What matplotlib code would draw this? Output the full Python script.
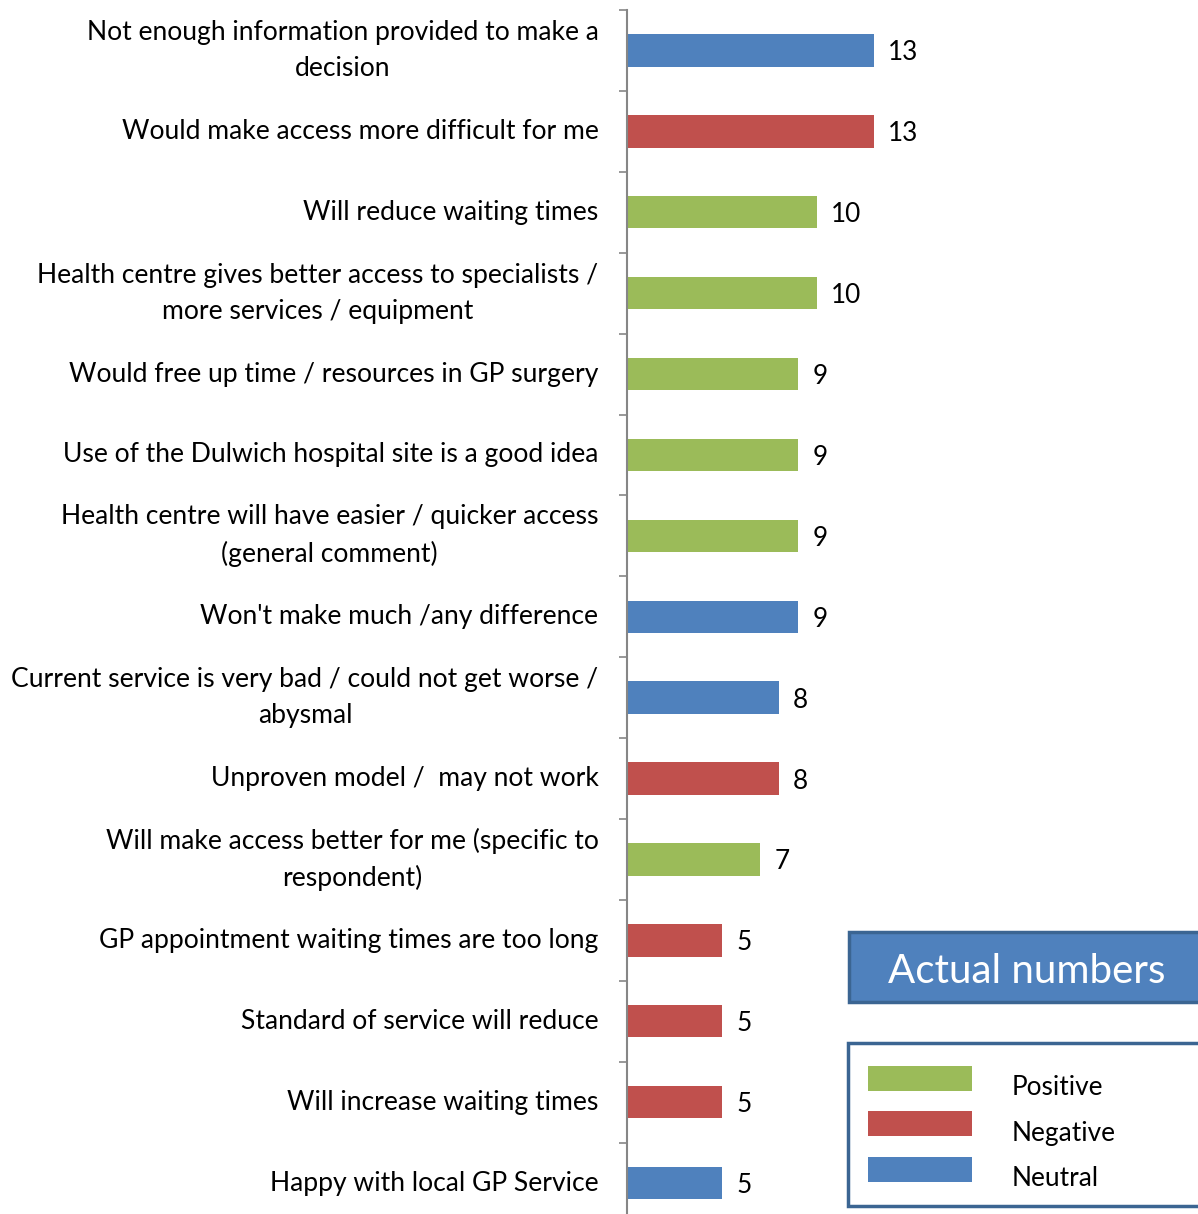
import numpy as np
import matplotlib.pyplot as plt
from matplotlib.patches import Rectangle

plt.rcParams['font.family'] = ['Lato', 'DejaVu Sans']

labels = [
    "Not enough information provided to make a\ndecision",
    "Would make access more difficult for me",
    "Will reduce waiting times",
    "Health centre gives better access to specialists /\nmore services / equipment",
    "Would free up time / resources in GP surgery",
    "Use of the Dulwich hospital site is a good idea",
    "Health centre will have easier / quicker access\n(general comment)",
    "Won't make much /any difference",
    "Current service is very bad / could not get worse /\nabysmal",
    "Unproven model /  may not work",
    "Will make access better for me (specific to\nrespondent)",
    "GP appointment waiting times are too long",
    "Standard of service will reduce",
    "Will increase waiting times",
    "Happy with local GP Service",
]
counts = [13, 13, 10, 10, 9, 9, 9, 9, 8, 8, 7, 5, 5, 5, 5]
sentiment = ["Neutral", "Negative", "Positive", "Positive", "Positive",
             "Positive", "Positive", "Neutral", "Neutral", "Negative",
             "Positive", "Negative", "Negative", "Negative", "Neutral"]

colors = {"Positive": "#9BBB59", "Negative": "#C0504D", "Neutral": "#4F81BD"}
legend_order = ["Positive", "Negative", "Neutral"]

W, H = 1198, 1214
fig = plt.figure(figsize=(W / 100, H / 100), dpi=100)

# axes in pixel terms: y axis at x=627, 19 px per unit, rows 80.9 px apart
n = len(labels)
row = 80.9
top_px = 10
ax_left = 627 / W
ax_w = 18 * 19 / W
ax_h = n * row / H
ax_bottom = 1 - (top_px + n * row) / H
ax = fig.add_axes([ax_left, ax_bottom, ax_w, ax_h])

y = np.arange(n)
ax.barh(y, counts, height=0.4, color=[colors[s] for s in sentiment])
ax.set_xlim(0, 18)
ax.set_ylim(n - 0.5, -0.5)

for yi, v in zip(y, counts):
    ax.text(v + 0.75, yi, str(v), va='center_baseline', ha='left', fontsize=18.8)

for yi, lab in zip(y, labels):
    ax.text(-1.5, yi, lab, va='center', ha='right', fontsize=19.1,
            multialignment='center', linespacing=1.55)

for s in ['top', 'right', 'bottom']:
    ax.spines[s].set_visible(False)
ax.spines['left'].set_color('#868686')
ax.spines['left'].set_linewidth(1.5)
ax.set_xticks([])
ax.set_yticks(np.arange(-0.5, n, 1.0))
ax.set_yticklabels([])
ax.tick_params(axis='y', length=6, width=1.2, color='#868686', direction='out')


def px_rect(x0, y0, x1, y1, **kw):
    r = Rectangle((x0 / W, 1 - y1 / H), (x1 - x0) / W, (y1 - y0) / H,
                  transform=fig.transFigure, **kw)
    fig.patches.append(r)
    return r


# title box
px_rect(849, 932, 1205, 1002, facecolor='#4F81BD', edgecolor='#3B6592', linewidth=2.5)
fig.text(1027 / W, 1 - 968 / H, "Actual numbers", color='white', fontsize=29,
         ha='center', va='center_baseline')

# legend box
px_rect(848, 1043, 1205, 1206, facecolor='white', edgecolor='#3B6592', linewidth=2.5)
for i, key in enumerate(legend_order):
    yc = 1078 + i * 45.5
    px_rect(868, yc - 12.5, 972, yc + 12.5, facecolor=colors[key], edgecolor='none')
    fig.text(1012 / W, 1 - (yc + 7) / H, key, fontsize=18.9, ha='left',
             va='center_baseline')

fig.savefig('out.png', dpi=100)
